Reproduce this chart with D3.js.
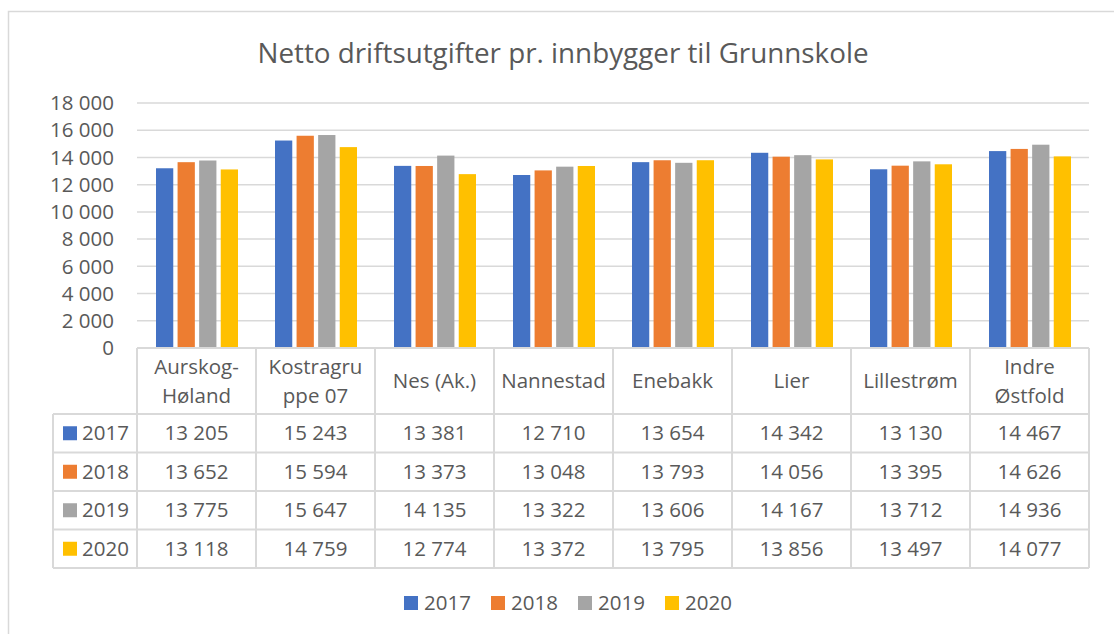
<!DOCTYPE html>
<head>
    <meta charset="utf-8">
    <script src="https://cdn.jsdelivr.net/npm/d3@7"></script>
    <title>Netto driftsutgifter</title>
    <style>
        body { margin: 0; background: #fff; }
        text { font-family: "Open Sans", sans-serif; fill: #595959; }
    </style>
</head>

<body>
    <svg id="chart" width="1114" height="634"></svg>
    <script>

        // data
        categories = ["Aurskog-Høland", "Kostragruppe 07", "Nes (Ak.)", "Nannestad", "Enebakk", "Lier", "Lillestrøm", "Indre Østfold"]
        categoryLines = [["Aurskog-", "Høland"], ["Kostragru", "ppe 07"], ["Nes (Ak.)"], ["Nannestad"], ["Enebakk"], ["Lier"], ["Lillestrøm"], ["Indre", "Østfold"]]
        years = ["2017", "2018", "2019", "2020"]
        v2017 = [13205, 15243, 13381, 12710, 13654, 14342, 13130, 14467]
        v2018 = [13652, 15594, 13373, 13048, 13793, 14056, 13395, 14626]
        v2019 = [13775, 15647, 14135, 13322, 13606, 14167, 13712, 14936]
        v2020 = [13118, 14759, 12774, 13372, 13795, 13856, 13497, 14077]
        yTicks = [0, 2000, 4000, 6000, 8000, 10000, 12000, 14000, 16000, 18000]

        series = [v2017, v2018, v2019, v2020]
        colors = ["#4472C4", "#ED7D31", "#A5A5A5", "#FFC000"]

        var svg = d3.select("#chart")
        var fmt = d => d3.format(",")(d).replace(/,/g, " ")

        // outer chart border
        svg.append("rect")
            .attr("x", 8.5).attr("y", 11.5)
            .attr("width", 1200).attr("height", 700)
            .attr("fill", "none").attr("stroke", "#d9d9d9").attr("stroke-width", 1.5)

        svg.append("text")
            .attr("x", 563).attr("y", 53)
            .attr("dy", "0.35em")
            .attr("text-anchor", "middle")
            .attr("font-size", 27.8)
            .text("Netto driftsutgifter pr. innbygger til Grunnskole")

        var plotLeft = 137, plotRight = 1089, plotTop = 103, plotBottom = 348

        var y = d3.scaleLinear().domain([0, 18000]).range([plotBottom, plotTop])
        var x0 = d3.scaleBand().domain(categories).range([plotLeft, plotRight])
        var x1 = d3.scaleBand().domain(years).range([19, 101]).paddingInner(0.2)

        // gridlines
        svg.append("g").selectAll("line")
            .data(yTicks.filter(d => d > 0))
            .enter().append("line")
            .attr("x1", plotLeft).attr("x2", plotRight)
            .attr("y1", d => y(d)).attr("y2", d => y(d))
            .attr("stroke", "#d9d9d9").attr("stroke-width", 1.5)

        // y tick labels
        svg.append("g").selectAll("text")
            .data(yTicks)
            .enter().append("text")
            .attr("x", 114).attr("y", d => y(d))
            .attr("dy", "0.35em")
            .attr("text-anchor", "end")
            .attr("font-size", 20.5)
            .text(fmt)

        // bars
        series.forEach(function (vals, si) {
            svg.append("g").selectAll("rect")
                .data(vals)
                .enter().append("rect")
                .attr("x", (d, i) => x0(categories[i]) + x1(years[si]))
                .attr("width", x1.bandwidth())
                .attr("y", d => y(d))
                .attr("height", d => y(0) - y(d))
                .attr("fill", colors[si])
        })

        // data table
        var headerBottom = 414, rowH = 38.5
        var tableLeft = 53
        var rowY = d3.scaleBand().domain(years).range([headerBottom, headerBottom + rowH * 4])
        var tableBottom = headerBottom + rowH * 4
        var grid = svg.append("g").attr("stroke", "#d9d9d9").attr("stroke-width", 2)

        // vertical lines of category columns
        categories.forEach(function (c) {
            grid.append("line").attr("x1", x0(c)).attr("x2", x0(c)).attr("y1", plotBottom).attr("y2", tableBottom)
        })
        grid.append("line").attr("x1", plotRight).attr("x2", plotRight).attr("y1", plotBottom).attr("y2", tableBottom)
        grid.append("line").attr("x1", tableLeft).attr("x2", tableLeft).attr("y1", headerBottom).attr("y2", tableBottom)
        // horizontal lines
        grid.append("line").attr("x1", plotLeft).attr("x2", plotRight).attr("y1", plotBottom).attr("y2", plotBottom)
        years.forEach(function (yr) {
            grid.append("line").attr("x1", tableLeft).attr("x2", plotRight).attr("y1", rowY(yr)).attr("y2", rowY(yr))
        })
        grid.append("line").attr("x1", tableLeft).attr("x2", plotRight).attr("y1", tableBottom).attr("y2", tableBottom)

        // header labels
        categoryLines.forEach(function (lines, i) {
            var cx = x0(categories[i]) + x0.bandwidth() / 2
            var mid = (plotBottom + headerBottom) / 2
            lines.forEach(function (ln, j) {
                svg.append("text")
                    .attr("x", cx)
                    .attr("y", mid + (j - (lines.length - 1) / 2) * 29)
                    .attr("dy", "0.35em")
                    .attr("text-anchor", "middle")
                    .attr("font-size", 20.5)
                    .text(ln)
            })
        })

        // row labels and values
        years.forEach(function (yr, si) {
            var cy = rowY(yr) + rowY.bandwidth() / 2
            svg.append("rect").attr("x", 63).attr("y", cy - 7).attr("width", 14).attr("height", 14).attr("fill", colors[si])
            svg.append("text").attr("x", 82).attr("y", cy).attr("dy", "0.35em").attr("font-size", 20.5).text(yr)
            series[si].forEach(function (v, i) {
                svg.append("text")
                    .attr("x", x0(categories[i]) + x0.bandwidth() / 2)
                    .attr("y", cy).attr("dy", "0.35em")
                    .attr("text-anchor", "middle")
                    .attr("font-size", 20.5)
                    .text(fmt(v))
            })
        })

        // legend
        var legend = svg.append("g")
        years.forEach(function (yr, si) {
            var lx = 404 + si * 87
            legend.append("rect").attr("x", lx).attr("y", 596).attr("width", 14).attr("height", 14).attr("fill", colors[si])
            legend.append("text").attr("x", lx + 20).attr("y", 603).attr("dy", "0.35em").attr("font-size", 20.5).text(yr)
        })

    </script>
</body>
